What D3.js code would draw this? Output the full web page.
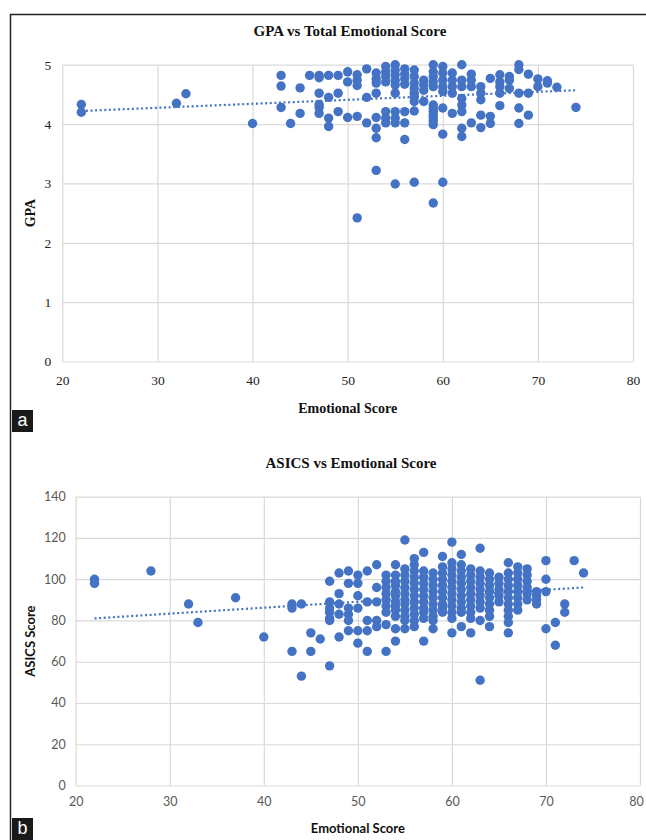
<!DOCTYPE html>
<html>
<head>
<meta charset="utf-8">
<script src="https://cdn.jsdelivr.net/npm/d3@7"></script>
<style>
  body { margin: 0; background: #fff; }
  svg { display: block; }
</style>
</head>
<body>
<div id="chart"></div>
<script>
// values
const xTicks = [20, 30, 40, 50, 60, 70, 80]
const gpaTicks = [0, 1, 2, 3, 4, 5]
const asicsTicks = [0, 20, 40, 60, 80, 100, 120, 140]

// [emotional score, GPA]
const gpaPoints = [
  [22, 4.33], [22, 4.2], [32, 4.35], [33, 4.51], [40, 4.01],
  [43, 4.82], [43, 4.64], [43, 4.28], [44, 4.01], [45, 4.61], [45, 4.18], [46, 4.82],
  [47, 4.82], [47, 4.78], [47, 4.52], [47, 4.33], [47, 4.28], [47, 4.18],
  [48, 4.82], [48, 4.45], [48, 4.1], [48, 3.96],
  [49, 4.82], [49, 4.52], [49, 4.21],
  [50, 4.88], [50, 4.71], [50, 4.11],
  [51, 4.83], [51, 4.74], [51, 4.65], [51, 4.13], [51, 2.42],
  [52, 4.93], [52, 4.45], [52, 4.02],
  [53, 4.86], [53, 4.76], [53, 4.69], [53, 4.52], [53, 4.11], [53, 3.93], [53, 3.77], [53, 3.22],
  [54, 4.97], [54, 4.88], [54, 4.8], [54, 4.71], [54, 4.21], [54, 4.1], [54, 4.02],
  [55, 5.0], [55, 4.91], [55, 4.83], [55, 4.74], [55, 4.66], [55, 4.52], [55, 4.21], [55, 4.1], [55, 4.02], [55, 2.99],
  [56, 4.93], [56, 4.84], [56, 4.76], [56, 4.67], [56, 4.21], [56, 4.02], [56, 3.74],
  [57, 4.91], [57, 4.8], [57, 4.69], [57, 4.6], [57, 4.52], [57, 4.46], [57, 4.38], [57, 4.22], [57, 3.02],
  [58, 4.74], [58, 4.66], [58, 4.57], [58, 4.38],
  [59, 5.0], [59, 4.88], [59, 4.8], [59, 4.71], [59, 4.63], [59, 4.32], [59, 4.26], [59, 4.21], [59, 4.15], [59, 4.1], [59, 4.05], [59, 3.99], [59, 2.67],
  [60, 4.97], [60, 4.86], [60, 4.74], [60, 4.63], [60, 4.55], [60, 4.27], [60, 3.83], [60, 3.02],
  [61, 4.86], [61, 4.74], [61, 4.63], [61, 4.52], [61, 4.18],
  [62, 5.0], [62, 4.74], [62, 4.63], [62, 4.43], [62, 4.32], [62, 4.21], [62, 3.93], [62, 3.79],
  [63, 4.84], [63, 4.74], [63, 4.63], [63, 4.02],
  [64, 4.63], [64, 4.52], [64, 4.41], [64, 4.15], [64, 3.94],
  [65, 4.77], [65, 4.13], [65, 4.01],
  [66, 4.83], [66, 4.71], [66, 4.63], [66, 4.52], [66, 4.31],
  [67, 4.8], [67, 4.74], [67, 4.6],
  [68, 5.0], [68, 4.92], [68, 4.52], [68, 4.27], [68, 4.01],
  [69, 4.84], [69, 4.52], [69, 4.15],
  [70, 4.76], [70, 4.63], [71, 4.73], [71, 4.69], [72, 4.62], [74, 4.28]
]

// [emotional score, ASICS score]
const asicsPoints = [
  [22, 100], [22, 98], [28, 104], [32, 88], [33, 79], [37, 91], [40, 72],
  [43, 88], [43, 86], [43, 65], [44, 88], [44, 53], [45, 74], [45, 65], [46, 71],
  [47, 99], [47, 89], [47, 86], [47, 84], [47, 81], [47, 80], [47, 58],
  [48, 103], [48, 93], [48, 88], [48, 83], [48, 72],
  [49, 104], [49, 98], [49, 86], [49, 83], [49, 80], [49, 75],
  [50, 102], [50, 98], [50, 92], [50, 86], [50, 75], [50, 69],
  [51, 104], [51, 89], [51, 80], [51, 75], [51, 65],
  [52, 107], [52, 96], [52, 89], [52, 80], [52, 77],
  [53, 102], [53, 99], [53, 96], [53, 93], [53, 90], [53, 87], [53, 84], [53, 78], [53, 65],
  [54, 107], [54, 102], [54, 99], [54, 97], [54, 94], [54, 92], [54, 89], [54, 87], [54, 85], [54, 82], [54, 76], [54, 70],
  [55, 119], [55, 105], [55, 102], [55, 99], [55, 96], [55, 93], [55, 90], [55, 88], [55, 85], [55, 82], [55, 80], [55, 76],
  [56, 110], [56, 107], [56, 104], [56, 101], [56, 98], [56, 95], [56, 92], [56, 89], [56, 86], [56, 83], [56, 80], [56, 77],
  [57, 113], [57, 104], [57, 101], [57, 98], [57, 95], [57, 92], [57, 89], [57, 86], [57, 84], [57, 81], [57, 70],
  [58, 103], [58, 100], [58, 97], [58, 94], [58, 91], [58, 88], [58, 85], [58, 82], [58, 80], [58, 76],
  [59, 111], [59, 106], [59, 103], [59, 100], [59, 97], [59, 94], [59, 91], [59, 88], [59, 86], [59, 84],
  [60, 118], [60, 108], [60, 105], [60, 102], [60, 99], [60, 96], [60, 93], [60, 90], [60, 87], [60, 84], [60, 81], [60, 74],
  [61, 112], [61, 107], [61, 104], [61, 101], [61, 98], [61, 95], [61, 92], [61, 89], [61, 86], [61, 84], [61, 77],
  [62, 105], [62, 102], [62, 99], [62, 96], [62, 93], [62, 90], [62, 87], [62, 84], [62, 81], [62, 74],
  [63, 115], [63, 104], [63, 101], [63, 98], [63, 95], [63, 92], [63, 89], [63, 86], [63, 80], [63, 51],
  [64, 103], [64, 100], [64, 97], [64, 94], [64, 91], [64, 88], [64, 85], [64, 82], [64, 77],
  [65, 101], [65, 98], [65, 95], [65, 92], [65, 89],
  [66, 108], [66, 103], [66, 100], [66, 97], [66, 94], [66, 91], [66, 88], [66, 85], [66, 82], [66, 79], [66, 74],
  [67, 106], [67, 103], [67, 100], [67, 97], [67, 94], [67, 91], [67, 88], [67, 85],
  [68, 105], [68, 102], [68, 99], [68, 96], [68, 93], [68, 90],
  [69, 94], [69, 92], [69, 90], [69, 88],
  [70, 109], [70, 100], [70, 94], [70, 76],
  [71, 79], [71, 68], [72, 88], [72, 84], [73, 109], [74, 103]
]

// linear trendline end points
const gpaTrend = [[22, 4.22], [74, 4.57]]
const asicsTrend = [[22, 81], [74, 96]]

const width = 646
const height = 840
const dotColor = '#4472c4'
const gridColor = '#d9d9d9'
const serif = '"Liberation Serif", "Times New Roman", serif'
const sans = 'Lato, "Liberation Sans", sans-serif'

const svg = d3.select('#chart')
  .append('svg')
  .attr('width', width)
  .attr('height', height)

// outer frame of the figure
svg.append('path')
  .attr('d', `M10.5,${height} V14.5 H${width}`)
  .attr('fill', 'none')
  .attr('stroke', '#222')
  .attr('stroke-width', 1.5)

function drawPanel(cfg) {
  const x = d3.scaleLinear().domain([20, 80]).range([cfg.left, cfg.right])
  const y = d3.scaleLinear().domain(cfg.yDomain).range([cfg.bottom, cfg.top])
  const g = svg.append('g')

  const xAxis = g.append('g')
    .attr('transform', `translate(0, ${cfg.bottom})`)
    .call(d3.axisBottom(x).tickValues(xTicks).tickFormat(d3.format('d'))
      .tickSize(-(cfg.bottom - cfg.top)).tickPadding(cfg.xPad))
  const yAxis = g.append('g')
    .attr('transform', `translate(${cfg.left}, 0)`)
    .call(d3.axisLeft(y).tickValues(cfg.yTicks).tickFormat(d3.format('d'))
      .tickSize(-(cfg.right - cfg.left)).tickPadding(cfg.yPad))

  ;[xAxis, yAxis].forEach(a => {
    a.select('.domain').remove()
    a.selectAll('line').attr('stroke', gridColor).attr('stroke-width', 1.2)
    a.selectAll('text')
      .attr('fill', cfg.tickColor)
      .style('font-family', cfg.tickFont)
      .style('font-size', cfg.tickSize + 'px')
  })
  // last x label sits against the right edge of the figure
  xAxis.selectAll('.tick:last-of-type text').attr('dx', cfg.lastDx)

  // dotted linear trendline
  g.append('path')
    .datum(cfg.trend)
    .attr('d', d3.line().x(d => x(d[0])).y(d => y(d[1])))
    .attr('fill', 'none')
    .attr('stroke', dotColor)
    .attr('stroke-width', 2.2)
    .attr('stroke-dasharray', '2,2.6')

  g.selectAll('circle.pt')
    .data(cfg.points)
    .join('circle')
    .attr('class', 'pt')
    .attr('cx', d => x(d[0]))
    .attr('cy', d => y(d[1]))
    .attr('r', 4.7)
    .attr('fill', dotColor)

  g.append('text')
    .attr('x', cfg.titleX)
    .attr('y', cfg.titleY)
    .attr('text-anchor', 'middle')
    .style('font-family', serif)
    .style('font-weight', 'bold')
    .style('font-size', '15px')
    .attr('fill', '#111')
    .text(cfg.title)

  g.append('text')
    .attr('x', (cfg.left + cfg.right) / 2)
    .attr('y', cfg.xLabelY)
    .attr('text-anchor', 'middle')
    .style('font-family', cfg.labelFont)
    .style('font-weight', 'bold')
    .style('font-size', cfg.labelSize + 'px')
    .attr('fill', '#111')
    .text('Emotional Score')

  g.append('text')
    .attr('transform', `translate(${cfg.yLabelX}, ${(cfg.top + cfg.bottom) / 2}) rotate(-90)`)
    .attr('text-anchor', 'middle')
    .style('font-family', cfg.labelFont)
    .style('font-weight', 'bold')
    .style('font-size', cfg.labelSize + 'px')
    .attr('fill', '#111')
    .text(cfg.yLabel)

  // panel letter
  g.append('rect')
    .attr('x', 12).attr('y', cfg.tagY)
    .attr('width', 21).attr('height', 22)
    .attr('fill', '#1a1a1a')
  g.append('text')
    .attr('x', 22.5).attr('y', cfg.tagY + 16)
    .attr('text-anchor', 'middle')
    .style('font-family', '"Liberation Sans", Arial, sans-serif')
    .style('font-size', '18px')
    .attr('fill', '#fff')
    .text(cfg.tag)
}

drawPanel({
  left: 62.3, right: 633, top: 64.7, bottom: 361.5,
  yDomain: [0, 5], yTicks: gpaTicks, points: gpaPoints, trend: gpaTrend,
  xPad: 14, yPad: 11, tickColor: '#222', tickFont: serif, tickSize: 13.5, lastDx: 0,
  title: 'GPA vs Total Emotional Score', titleX: 350, titleY: 36,
  xLabelY: 413, yLabel: 'GPA', yLabelX: 35, labelFont: serif, labelSize: 14,
  tag: 'a', tagY: 410
})

drawPanel({
  left: 75.7, right: 640, top: 496.7, bottom: 785.5,
  yDomain: [0, 140], yTicks: asicsTicks, points: asicsPoints, trend: asicsTrend,
  xPad: 12, yPad: 10, tickColor: '#595959', tickFont: sans, tickSize: 12.5, lastDx: -4,
  title: 'ASICS vs Emotional Score', titleX: 351, titleY: 468,
  xLabelY: 833, yLabel: 'ASICS Score', yLabelX: 35, labelFont: sans, labelSize: 13,
  tag: 'b', tagY: 818
})
</script>
</body>
</html>
